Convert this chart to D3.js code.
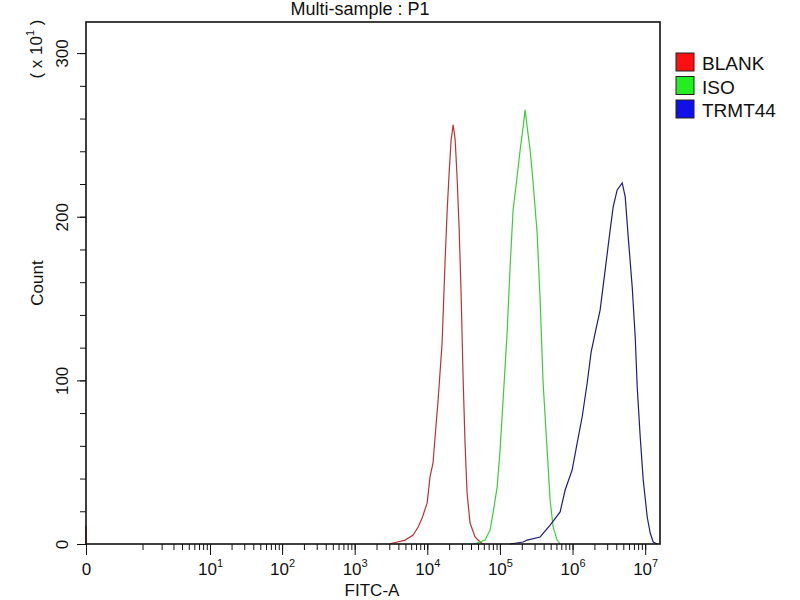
<!DOCTYPE html>
<html>
<head>
<meta charset="utf-8">
<script src="https://cdn.jsdelivr.net/npm/d3@7"></script>
<style>
  body { margin: 0; background: #fff; }
  svg { font-family: "Liberation Sans", Arial, sans-serif; }
</style>
</head>
<body>
<div id="chart"></div>
<script>
// histogram: FITC-A value and count (x 10^1)
const categories = ["BLANK", "ISO", "TRMT44"]
const colors = ["#b83434", "#3ccc3c", "#1e1e78"]
const legendColors = ["#ff1010", "#22ee22", "#1010e8"]

const blankFitc = [3080, 3390, 4950, 6380, 7480, 8490, 9960, 10900, 12000, 12800,
  14100, 16000, 17600, 18800, 20000, 21300, 22700, 24200, 25700, 27400,
  29200, 31100, 33100, 35300, 38800, 45500, 53300, 58700]
const blankCount = [0, 0.6, 2.4, 5.5, 10.4, 15.9, 25.1, 41, 49.5, 65.4,
  88, 122.9, 173.6, 204.2, 226.8, 247, 256.2, 247, 224.4, 193.8,
  153.5, 102.1, 61.7, 31.2, 12.8, 4.3, 1.2, 0]
const blankZeroCount = 11

const isoFitc = [44000, 48500, 62500, 73300, 80600, 91500, 100600, 110600, 125600, 138100,
  151900, 172500, 189900, 208800, 222300, 237000, 260600, 286600, 325400, 357800,
  393400, 446600, 491200, 540200, 613400, 674600]
const isoCount = [0, 0.6, 2.4, 8.6, 19, 34.8, 57.5, 88, 129, 169.3,
  204.2, 224.4, 240.9, 254.9, 265.3, 254.9, 240.9, 220.7, 190.1, 149.2,
  98.4, 57.5, 26.9, 10.4, 2.4, 0]

const trmtFitc = [138100, 208800, 237000, 357800, 491200, 674600, 791000, 987000, 1157000, 1356000,
  1590000, 1805000, 2050000, 2400000, 2814000, 3296000, 3626000, 4116000, 4830000, 5312000,
  5840000, 6630000, 7292000, 7770000, 8546000, 9400000, 10670000, 11730000, 12900000, 14650000]
const trmtCount = [0, 1.2, 2.4, 4.3, 11.6, 19.6, 33, 45.2, 61.7, 77.6,
  98.4, 117.4, 129, 143.1, 167.5, 192, 206, 216.4, 220.7, 212.1,
  187.7, 157.1, 126.5, 96, 65.4, 39.1, 16.5, 6.7, 1.2, 0]

const xDecades = [1, 2, 3, 4, 5, 6, 7]
const yTicks = [0, 100, 200, 300]
const yMinor = d3.range(0, 320, 20)

const W = 800, H = 600
const margin = {top: 22, right: 140, bottom: 56, left: 86}
const width = W - margin.left - margin.right
const height = H - margin.top - margin.bottom

const svg = d3.select("#chart").append("svg")
  .attr("width", W)
  .attr("height", H)

const g = svg.append("g")
  .attr("transform", "translate(" + margin.left + "," + margin.top + ")")

const x = d3.scaleSymlog()
  .constant(0.2)
  .domain([0, 1.6e7])
  .range([0, width])

const y = d3.scaleLinear()
  .domain([0, 319])
  .range([height, 0])

// minor x ticks: 1..9 x 10^k
const xMinor = []
for (let k = 0; k < 7; k++) {
  for (let d = 1; d <= 9; d++) xMinor.push(d * Math.pow(10, k))
}
xMinor.push(1e7)

g.append("g")
  .attr("transform", "translate(0," + height + ")")
  .call(d3.axisBottom(x).tickValues(xMinor).tickSize(6).tickFormat(""))
  .call(a => a.select(".domain").remove())

const xMajor = [0].concat(xDecades.map(p => Math.pow(10, p)))
const xAxis = g.append("g")
  .attr("transform", "translate(0," + height + ")")
  .call(d3.axisBottom(x).tickValues(xMajor).tickSize(11).tickFormat(""))
  .call(a => a.select(".domain").remove())

xAxis.selectAll(".tick text")
  .attr("y", 31)
  .attr("dy", 0)
  .attr("font-size", 17)
  .attr("fill", "#111")
  .each(function(d) {
    const t = d3.select(this)
    if (d === 0) { t.text("0"); return }
    t.append("tspan").text("10")
    t.append("tspan")
      .attr("font-size", 11)
      .attr("dy", -8)
      .text(Math.round(Math.log10(d)))
  })

g.append("g")
  .call(d3.axisLeft(y).tickValues(yMinor).tickSize(6).tickFormat(""))
  .call(a => a.select(".domain").remove())

const yAxis = g.append("g")
  .call(d3.axisLeft(y).tickValues(yTicks).tickSize(9))
  .call(a => a.select(".domain").remove())

yAxis.selectAll(".tick text")
  .attr("transform", "rotate(-90)")
  .attr("x", 0)
  .attr("y", -18)
  .attr("dy", 0)
  .attr("text-anchor", "middle")
  .attr("font-size", 17)
  .attr("font-family", "Liberation Sans, Arial, sans-serif")
  .attr("fill", "#111")

g.selectAll(".tick line").attr("stroke", "#111")

// curves
const line = d3.line()
  .x(d => x(d[0]))
  .y(d => y(d[1]))

const series = [
  d3.zip(blankFitc, blankCount),
  d3.zip(isoFitc, isoCount),
  d3.zip(trmtFitc, trmtCount)
]

g.selectAll("path.curve")
  .data(series)
  .enter().append("path")
    .attr("class", "curve")
    .attr("fill", "none")
    .attr("stroke", (d, i) => colors[i])
    .attr("stroke-width", 1.2)
    .attr("d", line)

// events piled at 0
g.append("path")
  .attr("fill", "none")
  .attr("stroke", "#e06060")
  .attr("stroke-width", 2)
  .attr("d", line([[0, 0], [0, blankZeroCount]]))

// frame
g.append("rect")
  .attr("width", width)
  .attr("height", height)
  .attr("fill", "none")
  .attr("stroke", "#111")
  .attr("stroke-width", 1.6)

// titles
svg.append("text")
  .attr("x", 360)
  .attr("y", 15)
  .attr("text-anchor", "middle")
  .attr("font-size", 18)
  .attr("fill", "#111")
  .text("Multi-sample : P1")

svg.append("text")
  .attr("x", 372)
  .attr("y", 596)
  .attr("text-anchor", "middle")
  .attr("font-size", 17)
  .attr("fill", "#111")
  .text("FITC-A")

svg.append("text")
  .attr("transform", "translate(43," + (margin.top + height / 2) + ") rotate(-90)")
  .attr("text-anchor", "middle")
  .attr("font-size", 17)
  .attr("fill", "#111")
  .text("Count")

const mult = svg.append("text")
  .attr("transform", "translate(42,49) rotate(-90)")
  .attr("text-anchor", "middle")
  .attr("font-size", 17)
  .attr("fill", "#111")
mult.append("tspan").text("( x 10")
mult.append("tspan").attr("font-size", 11).attr("dy", -8).text("1")
mult.append("tspan").attr("dy", 8).text(" )")

// legend
const legend = svg.append("g")
  .attr("transform", "translate(676,53)")

const item = legend.selectAll("g")
  .data(categories)
  .enter().append("g")
    .attr("transform", (d, i) => "translate(0," + (i * 23.5) + ")")

item.append("rect")
  .attr("width", 18)
  .attr("height", 18)
  .attr("fill", (d, i) => legendColors[i])
  .attr("stroke", "#222")
  .attr("stroke-width", 1)

item.append("text")
  .attr("x", 26)
  .attr("y", 17)
  .attr("font-size", 19)
  .attr("fill", "#111")
  .text(d => d)
</script>
</body>
</html>
